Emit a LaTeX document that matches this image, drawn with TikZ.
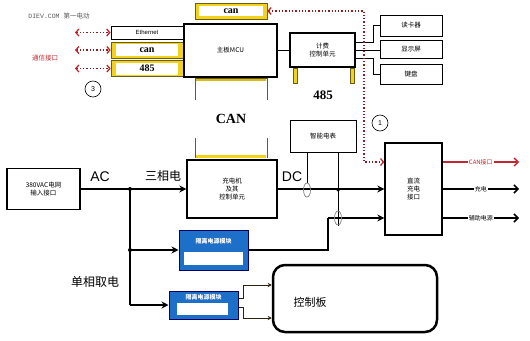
\documentclass[tikz,border=0pt]{standalone}
\usepackage{fontspec}
\setmainfont{Liberation Serif}
\newfontfamily\cjk{Noto Sans CJK SC}
\newfontfamily\lsans{Liberation Sans}
\newfontfamily\lmono{Liberation Mono}
\usetikzlibrary{arrows.meta}
\definecolor{mydot}{HTML}{8B1E1E}
\definecolor{isoblue}{HTML}{1E6FC8}
\definecolor{ylw}{HTML}{F2D21B}
\definecolor{olivec}{HTML}{6B5E1A}
\definecolor{canred}{HTML}{C0282D}
\begin{document}
\begin{tikzpicture}[x=1pt,y=-1pt,
 box/.style={draw, line width=1.3pt, inner sep=0pt, align=center, font=\cjk\fontsize{6.5}{8}\selectfont},
 tbox/.style={draw, line width=0.9pt, inner sep=0pt, align=center, font=\cjk\fontsize{6.5}{8}\selectfont},
 ybox/.style={draw=olivec, fill=ylw, line width=0.6pt, inner sep=0pt},
 yin/.style={fill=white, inner sep=0pt, font=\bfseries\fontsize{10}{10}\selectfont},
 mainln/.style={line width=1.8pt},
 lite/.style={line width=0.8pt},
 tip/.style={-{Stealth[length=7pt,width=7pt]}},
 otip/.style={-{Straight Barb[length=4pt,width=8pt]}},
 jdot/.style={circle, fill, inner sep=0pt, minimum size=4pt},
 comm/.style={mydot, dotted, line width=1.3pt, {Straight Barb[length=3pt,width=7pt,color=canred]}-{Straight Barb[length=3pt,width=7pt,color=canred]}},
 loop/.style={gray, line width=0.7pt},
 numc/.style={draw, circle, line width=0.6pt, minimum size=16pt, inner sep=0pt, font=\lsans\fontsize{7}{7}\selectfont},
 big/.style={font=\lsans\fontsize{14}{14}\selectfont},
 bigc/.style={font=\cjk\fontsize{12}{12}\selectfont},
 outl/.style={fill=white, inner sep=1pt, font=\cjk\fontsize{6}{6}\selectfont}
]
\useasboundingbox (0,0) rectangle (530,340);

% watermark
\node[text=black!65, font=\fontsize{6.5}{7}\selectfont] (wm) at (59,16) {\lmono DIEV.COM \cjk 第一电动};

% left communication boxes
\node[tbox, minimum width=72pt, minimum height=13pt, font=\lsans\fontsize{6}{7}\selectfont] (eth) at (147,32.5) {Ethernet};
\node[ybox, minimum width=72pt, minimum height=16pt] (canL) at (147,50) {};
\node[yin, minimum width=62pt, minimum height=12pt] (canLt) at (canL) {can};
\node[ybox, minimum width=72pt, minimum height=16pt] (rL) at (147,68.5) {};
\node[yin, minimum width=62pt, minimum height=12pt] (rLt) at (rL) {485};

\coordinate (e1) at (75,32.5);
\coordinate (e2) at (75,50);
\coordinate (e3) at (75,68.5);
\draw[comm] (e1) -- (e1 -| eth.west);
\draw[comm] (e2) -- (e2 -| canL.west);
\draw[comm] (e3) -- (e3 -| rL.west);
\node[text=canred, font=\cjk\fontsize{6.5}{7}\selectfont] (tx) at (45,58) {通信接口};
\node[numc] (c3) at (93,89) {3};

% MCU
\node[box, minimum width=93pt, minimum height=53pt] (mcu) at (230.5,50.5) {主板MCU};
\node[ybox, draw=olivec, minimum width=72pt, minimum height=16pt] (canT) at (231,11) {};
\node[yin, minimum width=64pt, minimum height=10pt] (canTt) at (canT) {can};

% CAN bracket
\draw[olivec, line width=1pt] (195,100) -- (195,78) -- (267,78) -- (267,100);
\draw[ylw!80!olivec, line width=2pt] (196,79.5) -- (266,79.5);
\node[font=\bfseries\fontsize{14}{14}\selectfont] (canM) at (231,119) {CAN};
\draw[olivec, line width=1pt] (195,138) -- (195,158);
\draw[olivec, line width=1pt] (267,138) -- (267,158);
\draw[ylw, line width=3pt] (196,156) -- (266,156);

% billing unit
\node[box, minimum width=65pt, minimum height=34pt] (bill) at (322.5,50) {计费\\控制单元};
\draw[lite] (mcu.east) -- (mcu.east -| bill.west);
\filldraw[fill=ylw, draw=olivec, line width=0.5pt] (293,68) rectangle (297,83);
\filldraw[fill=ylw, draw=olivec, line width=0.5pt] (350,68) rectangle (354,83);
\node[font=\bfseries\fontsize{13}{13}\selectfont] (r485) at (323,95) {485};

% peripherals
\node[tbox, minimum width=62pt, minimum height=21pt] (rd) at (411,25.5) {读卡器};
\node[tbox, minimum width=62pt, minimum height=18pt] (disp) at (411,49) {显示屏};
\node[tbox, minimum width=62pt, minimum height=20pt] (kb) at (411,74) {键盘};
\draw[lite] ([yshift=8pt]bill.east) -- ++(18,0) |- (rd.west);
\draw[lite] (bill.east) -- (bill.east -| disp.west);
\draw[lite] ([yshift=-8pt]bill.east) -- ++(18,0) |- (kb.west);

% dotted CAN link
\node[box, minimum width=57pt, minimum height=92pt] (dcp) at (413.5,189) {直流\\充电\\接口};
\coordinate (dtop) at (364,11);
\coordinate (dbot) at (364,162);
\draw[comm] (canT.east) -- (dtop) -- (dbot) -- (dbot -| dcp.west);
\node[numc] (c1) at (380,123) {1};

% meter
\node[tbox, line width=1pt, minimum width=66pt, minimum height=32pt] (meter) at (323,136) {智能电表};

% charger
\node[box, minimum width=90pt, minimum height=58pt] (chg) at (232,189) {充电机\\及其\\控制单元};

% AC input
\node[box, minimum width=73pt, minimum height=41pt] (ac) at (43.5,189) {380VAC电网\\输入接口};
\coordinate (j1) at (130,189);
\coordinate (j2) at (130,250);
\coordinate (j3) at (130,305);
\draw[mainln, tip] (ac.east) -- (chg.west);
\draw[mainln] (j1) -- (j3);
\node[jdot] (d1) at (j1) {};
\node[jdot] (d2) at (j2) {};
\node[big] (lac) at (100,177) {AC};
\node[bigc] (l3) at (163,176) {三相电};
\node[bigc] (l1) at (95,282) {单相取电};

% isolation modules
\node[draw=blue!40!black, fill=isoblue, line width=1pt, minimum width=69pt, minimum height=40pt, inner sep=0pt] (iso1) at (213.5,250) {};
\node[text=white, font=\cjk\bfseries\fontsize{6}{6}\selectfont] (iso1t) at (213.5,241) {隔离电源模块};
\fill[white] (184,252) rectangle (243,265);
\node[draw=blue!40!black, fill=isoblue, line width=1pt, minimum width=69pt, minimum height=28pt, inner sep=0pt] (iso2) at (203.5,305) {};
\node[text=white, font=\cjk\bfseries\fontsize{6}{6}\selectfont] (iso2t) at (203.5,297) {隔离电源模块};
\fill[white] (177,303) rectangle (228,315);
\draw[mainln, tip] (j2) -- (j2 -| iso1.west);
\draw[mainln, tip] (j3) -- (j3 -| iso2.west);

% DC bus
\draw[mainln, tip] (chg.east) -- (chg.east -| dcp.west);
\node[big] (ldc) at (292,177) {DC};
\coordinate (k1) at (328,250);
\coordinate (k2) at (328,218);
\draw[line width=1.5pt] (iso1.east |- k1) -- (k1) -- (k2);
\draw[line width=1.5pt, tip] (k2) -- (k2 -| dcp.west);

% meter sense lines
\coordinate (m1t) at (307,152);
\coordinate (m1b) at (307,183);
\coordinate (m2t) at (338,152);
\coordinate (m2b) at (338,226);
\draw[lite] (m1t) -- (m1b);
\draw[lite] (m2t) -- (m2b);
\node[jdot, minimum size=3.5pt] (d3) at (338,190) {};
\draw[loop] (307,190) ellipse [x radius=3.5, y radius=7];
\draw[loop] (338,218) ellipse [x radius=3.5, y radius=7];

% outputs
\coordinate (o1) at (519,162);
\coordinate (o2) at (519,189);
\coordinate (o3) at (519,218);
\draw[canred, line width=1.3pt, otip] (dcp.east |- o1) -- (o1) node[outl, midway, text=canred] {CAN接口};
\draw[line width=1.5pt, otip] (dcp.east |- o2) -- (o2) node[outl, midway] {充电};
\draw[line width=1.5pt, otip] (dcp.east |- o3) -- (o3) node[outl, midway] {辅助电源};

% control board
\node[draw, line width=2.5pt, rounded corners=12pt, minimum width=164pt, minimum height=67pt] (ctl) at (355,298.5) {};
\node[font=\cjk\fontsize{11}{11}\selectfont] (ctlt) at (310,302) {控制板};
\coordinate (b1) at (243,285);
\coordinate (b2) at (243,318);
\draw[lite, black!75!brown, -{Stealth[length=4pt,width=4pt]}] ([yshift=7pt]iso2.east) -- ++(5,0) |- (ctl.west |- b1);
\draw[lite, black!75!brown, -{Stealth[length=4pt,width=4pt]}] ([yshift=-2pt]iso2.east) -- ++(5,0) |- (ctl.west |- b2);
\end{tikzpicture}
\end{document}
